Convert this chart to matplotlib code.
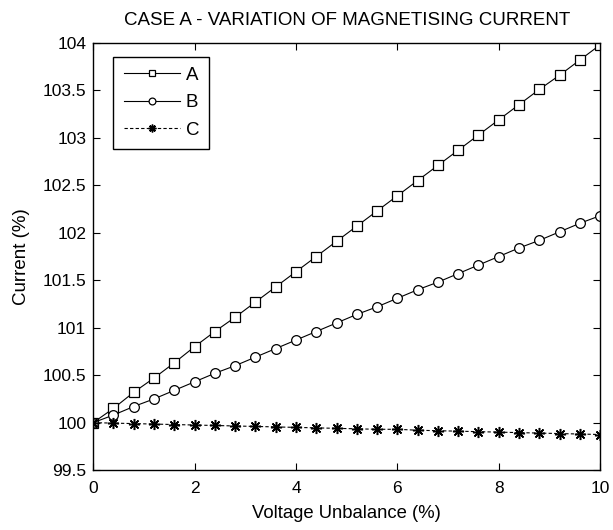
import matplotlib
matplotlib.use('Agg')
import matplotlib.pyplot as plt

plt.rcParams['font.family'] = ['Liberation Sans', 'DejaVu Sans']

x = [0, 0.4, 0.8, 1.2, 1.6, 2.0, 2.4, 2.8, 3.2, 3.6, 4.0, 4.4, 4.8,
     5.2, 5.6, 6.0, 6.4, 6.8, 7.2, 7.6, 8.0, 8.4, 8.8, 9.2, 9.6, 10.0]
case_a = [100.0, 100.15, 100.32, 100.47, 100.63, 100.80, 100.96, 101.11, 101.27,
          101.43, 101.59, 101.75, 101.91, 102.07, 102.23, 102.39, 102.55, 102.71,
          102.87, 103.03, 103.19, 103.35, 103.51, 103.66, 103.82, 103.98]
case_b = [100.0, 100.08, 100.17, 100.25, 100.34, 100.43, 100.52, 100.60, 100.69,
          100.78, 100.87, 100.96, 101.05, 101.14, 101.22, 101.31, 101.40, 101.48,
          101.57, 101.66, 101.75, 101.84, 101.92, 102.01, 102.10, 102.18]
case_c = [100.0, 99.995, 99.99, 99.985, 99.98, 99.975, 99.97, 99.965, 99.96,
          99.955, 99.95, 99.945, 99.94, 99.935, 99.93, 99.93, 99.92, 99.915,
          99.91, 99.905, 99.90, 99.895, 99.89, 99.885, 99.88, 99.875]

fig = plt.figure(figsize=(6.13, 5.30), dpi=100)
ax = fig.add_axes([0.152, 0.113, 0.827, 0.806])

ax.plot(x, case_a, color='black', lw=0.8, marker='s', ms=7, mfc='white', mec='black', mew=0.9, label='A')
ax.plot(x, case_b, color='black', lw=0.8, marker='o', ms=7, mfc='white', mec='black', mew=0.9, label='B')
ax.plot(x, case_c, color='black', lw=0.8, ls='--', dashes=(3, 2), marker=(8, 2, 0), ms=8,
        mfc='black', mec='black', mew=1.1, label='C')

ax.set_xlim(0, 10)
ax.set_ylim(99.5, 104)
ax.set_xticks([0, 2, 4, 6, 8, 10])
ax.set_yticks([99.5, 100, 100.5, 101, 101.5, 102, 102.5, 103, 103.5, 104])
ax.set_yticklabels(['99.5', '100', '100.5', '101', '101.5', '102', '102.5', '103', '103.5', '104'])
ax.tick_params(direction='in', top=True, right=True, labelsize=12.5, length=5)
ax.tick_params(axis='y', pad=5)
ax.tick_params(axis='x', pad=8)
for s in ax.spines.values():
    s.set_linewidth(1.0)

ax.set_title('CASE A - VARIATION OF MAGNETISING CURRENT', fontsize=13.5, pad=13)
ax.set_xlabel('Voltage Unbalance (%)', fontsize=13.3, labelpad=6)
ax.set_ylabel('Current (%)', fontsize=13.5, labelpad=9)

leg = ax.legend(loc='upper left', bbox_to_anchor=(0.04, 0.968), borderaxespad=0,
                fontsize=13.5, fancybox=False, edgecolor='black', framealpha=1,
                handlelength=3.0, labelspacing=0.55, markerscale=0.7,
                handletextpad=0.3, borderpad=0.55)
leg.get_frame().set_linewidth(1.0)

fig.savefig('out.png', dpi=100)
